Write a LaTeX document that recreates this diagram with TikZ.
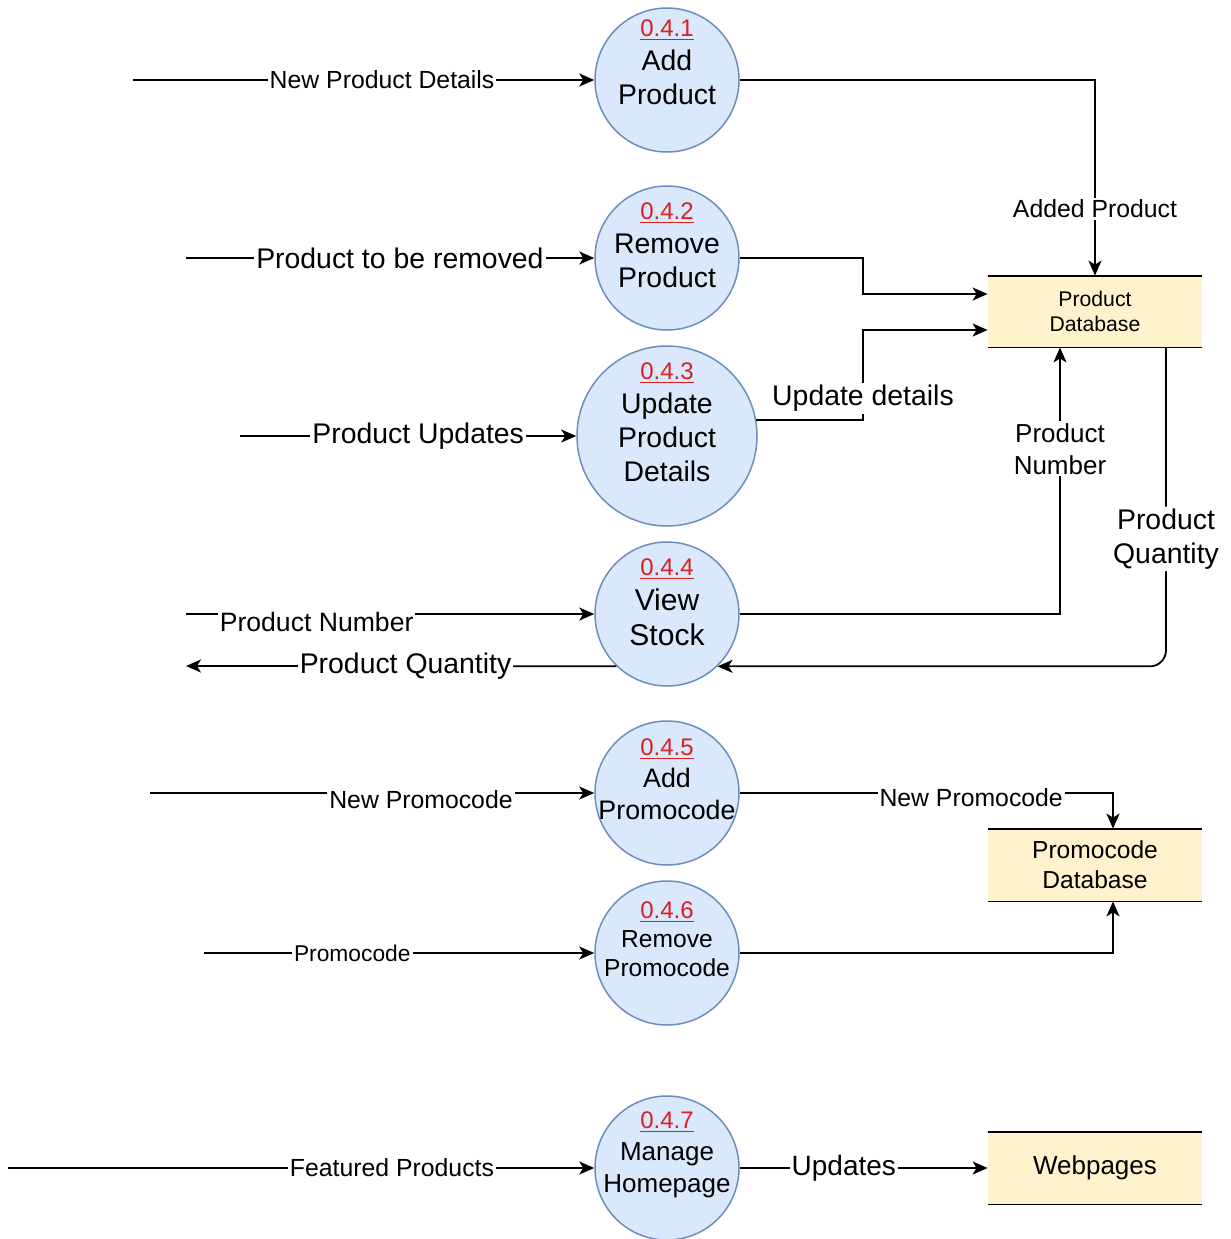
\documentclass[tikz,border=0pt]{standalone}
\usepackage{fontspec}
\setmainfont{Liberation Sans}
\usetikzlibrary{arrows.meta}
\definecolor{procfill}{RGB}{218,232,252}
\definecolor{procline}{RGB}{108,142,191}
\definecolor{storefill}{RGB}{255,242,204}
\definecolor{numred}{RGB}{220,30,30}
\newcommand{\pnum}[1]{{\fontsize{12}{14}\selectfont\textcolor{numred}{\underline{#1}}}}

\begin{document}
\begin{tikzpicture}[x=0.5pt,y=-0.5pt,
    proc/.style={circle,draw=procline,fill=procfill,line width=0.75pt,minimum size=72pt,inner sep=0pt},
    ptext/.style={align=center,inner sep=0pt,font=\fontsize{14.2}{17}\selectfont},
    store/.style={fill=storefill,minimum width=107pt,minimum height=36pt,inner sep=0pt,align=center},
    flow/.style={line width=0.9pt,-{Stealth[length=7.5pt,width=6.5pt,inset=2pt]}},
    flowlbl/.style={fill=white,inner sep=1pt,font=\fontsize{12.4}{15}\selectfont},
    bigflowlbl/.style={fill=white,inner sep=1pt,align=center,font=\fontsize{14.2}{17}\selectfont}]
    \useasboundingbox (0,0) rectangle (1231,1239);

    % processes
    \node[proc] (p1) at (667,80) {};
    \node[proc] (p2) at (667,258) {};
    \node[proc,minimum size=90pt] (p3) at (667,436) {};
    \node[proc] (p4) at (667,614) {};
    \node[proc] (p5) at (667,793) {};
    \node[proc] (p6) at (667,953) {};
    \node[proc] (p7) at (667,1168) {};
    \node[ptext] (t1) at (667,62) {\pnum{0.4.1}\\Add\\Product};
    \node[ptext] (t2) at (667,245) {\pnum{0.4.2}\\Remove\\Product};
    \node[ptext] (t3) at (667,422) {\pnum{0.4.3}\\Update\\Product\\Details};
    \node[ptext,font=\fontsize{15}{17.5}\selectfont] (t4) at (667,602) {\pnum{0.4.4}\\View\\Stock};
    \node[ptext,font=\fontsize{13.4}{16}\selectfont] (t5) at (667,779) {\pnum{0.4.5}\\Add\\Promocode};
    \node[ptext,font=\fontsize{12.3}{14.5}\selectfont] (t6) at (667,939) {\pnum{0.4.6}\\Remove\\Promocode};
    \node[ptext,font=\fontsize{13}{16}\selectfont] (t7) at (667,1155) {\pnum{0.4.7}\\Manage\\Homepage};

    % data stores
    \node[store,minimum height=35.5pt,font=\fontsize{10.6}{12.5}\selectfont] (db1) at (1095,311.5) {Product\\Database};
    \node[store,font=\fontsize{12.3}{15}\selectfont] (db2) at (1095,865) {Promocode\\Database};
    \node[store,font=\fontsize{13}{16}\selectfont] (web) at (1095,1168) {Webpages};
    \foreach \s in {db1,db2,web}
      \draw[line width=0.9pt] (\s.north west) -- (\s.north east) (\s.south west) -- (\s.south east);

    % free ends
    \coordinate (in1) at (133,80);
    \coordinate (in2) at (186,258);
    \coordinate (in3) at (240,436);
    \coordinate (in4) at (186,614);
    \coordinate (out4) at (186,666);
    \coordinate (in5) at (150,793);
    \coordinate (in6) at (204,953);
    \coordinate (in7) at (8,1168);

    % flows
    \draw[flow] (in1) -- (p1.west) node[flowlbl,pos=0.54] {New Product Details};
    \draw[flow] (p1.east) -| (db1.north) node[flowlbl,pos=0.83] {Added Product};
    \draw[flow] (in2) -- (p2.west) node[bigflowlbl,pos=0.524] {Product to be removed};
    \draw[flow] (p2.east) -| (863,294) -- ([yshift=8.75pt]db1.west);
    \draw[flow] (in3) -- (p3.west) node[bigflowlbl,pos=0.53] {Product Updates};
    \draw[flow] (p3.10) -| (863,330) node[bigflowlbl,pos=0.62] {Update details} -- ([yshift=-9.25pt]db1.west);
    \draw[flow] (in4) -- (p4.west) node[bigflowlbl,font=\fontsize{13.3}{16}\selectfont,pos=0.32,yshift=-4pt] {Product Number};
    \draw[flow] (p4.east) -| ([xshift=-17.5pt]db1.south) node[bigflowlbl,font=\fontsize{13}{16}\selectfont,pos=0.81] {Product\\Number};
    \draw[flow,rounded corners=8pt] ([xshift=35.5pt]db1.south) |- (p4.314) node[bigflowlbl,pos=0.3] {Product\\Quantity};
    \draw[flow] (p4.226) -- (out4) node[bigflowlbl,pos=0.49] {Product Quantity};
    \draw[flow] (in5) -- (p5.west) node[flowlbl,pos=0.61,yshift=-3.5pt] {New Promocode};
    \draw[flow] (p5.east) -| ([xshift=9pt]db2.north) node[flowlbl,pos=0.31,yshift=-2.5pt] {New Promocode};
    \draw[flow] (in6) -- (p6.west) node[flowlbl,font=\fontsize{11.4}{14}\selectfont,pos=0.38] {Promocode};
    \draw[flow] (p6.east) -| ([xshift=9pt]db2.south);
    \draw[flow] (in7) -- (p7.west) node[flowlbl,pos=0.655] {Featured Products};
    \draw[flow] (p7.east) -- (web.west) node[bigflowlbl,font=\fontsize{14}{17}\selectfont,pos=0.42] {Updates};
\end{tikzpicture}
\end{document}
